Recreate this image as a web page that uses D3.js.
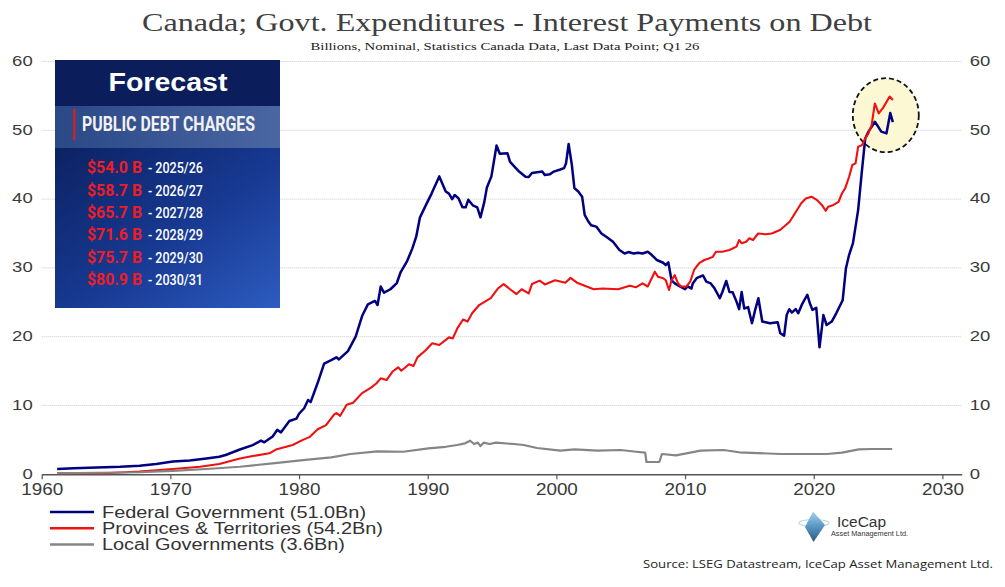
<!DOCTYPE html>
<html>
<head>
<meta charset="utf-8">
<script src="https://cdn.jsdelivr.net/npm/d3@7"></script>
<style>
  body { margin: 0; background: #fff; }
  svg { display: block; font-family: "Liberation Sans", Arial, sans-serif; }
</style>
</head>
<body>
<svg id="chart" width="1005" height="587"></svg>
<script>
// values, year as decimal, billions CAD
var fedYears = [1961.2,1962.5,1964.3,1966.1,1967.6,1968.9,1970.2,1971.5,1972.8,1973.8,
  1974.3,1975.4,1976.4,1977.05,1977.3,1977.95,1978.3,1978.6,1979.25,1979.8,
  1980.0,1980.4,1980.7,1980.9,1981.45,1981.95,1982.5,1982.9,1983.1,1983.8,
  1984.4,1984.9,1985.35,1985.9,1986.1,1986.35,1986.6,1987.1,1987.6,1987.9,
  1988.4,1988.8,1989.1,1989.4,1989.8,1990.3,1990.9,1991.4,1991.65,1991.9,
  1992.1,1992.4,1992.7,1992.95,1993.15,1993.5,1993.85,1994.1,1994.4,1994.6,
  1994.95,1995.35,1995.6,1996.2,1996.4,1997.1,1997.6,1997.85,1998.1,1998.9,
  1999.1,1999.5,1999.8,2000.3,2000.6,2000.75,2000.95,2001.2,2001.4,2001.7,
  2002.0,2002.2,2002.5,2002.7,2003.1,2003.5,2003.9,2004.4,2004.9,2005.3,
  2005.6,2006.0,2006.35,2006.7,2007.1,2007.4,2007.8,2008.3,2008.5,2008.7,
  2008.95,2009.2,2009.6,2010.0,2010.2,2010.5,2010.6,2010.9,2011.4,2011.65,
  2012.0,2012.3,2012.7,2012.9,2013.2,2013.45,2013.7,2014.0,2014.2,2014.4,
  2014.6,2014.9,2015.2,2015.45,2015.7,2016.0,2016.6,2017.2,2017.4,2017.7,
  2017.9,2018.1,2018.3,2018.6,2018.8,2019.1,2019.5,2019.7,2019.9,2020.2,
  2020.45,2020.75,2021.0,2021.4,2021.75,2022.25,2022.5,2022.75,2023.05,2023.25,
  2023.45,2023.75,2024.0,2024.25,2024.5,2024.75,2025.05,2025.25,2025.65,2025.75,
  2025.95,2026.15];
var fedValues = [0.77,0.87,1.0,1.1,1.25,1.5,1.85,2.0,2.3,2.55,
  2.8,3.6,4.25,4.9,4.65,5.5,6.45,6.1,7.75,8.1,
  8.8,9.6,10.8,10.5,13.3,16.1,16.6,17.0,16.7,17.9,
  20.0,23.0,24.7,25.2,24.6,27.3,26.4,26.9,27.8,29.4,
  31.0,32.8,34.5,37.35,38.9,40.8,43.3,41.1,40.8,40.0,
  40.6,40.1,38.8,38.8,39.9,39.1,38.8,37.35,39.6,41.7,
  43.3,47.8,46.6,46.65,45.4,44.0,43.25,43.2,43.8,44.0,
  43.5,43.6,44.0,44.3,44.5,45.2,48.0,45.0,41.6,41.1,
  40.35,37.7,36.7,36.2,36.0,35.0,34.5,33.8,32.6,32.1,
  32.3,32.1,32.2,32.1,32.35,31.9,31.15,30.75,30.4,30.8,
  28.2,27.75,27.3,26.9,27.3,27.0,27.75,28.5,28.9,28.0,
  27.75,27.0,25.6,26.5,28.1,26.5,26.45,25.1,24.0,26.5,
  24.1,24.3,21.95,23.9,25.6,22.2,21.95,22.1,20.5,20.15,
  23.15,24.0,23.5,24.0,23.4,24.75,26.1,24.85,23.9,24.2,
  18.45,23.15,21.7,22.2,23.4,25.3,29.9,31.9,33.6,36.0,
  38.4,44.2,48.8,49.8,50.5,51.25,50.4,49.8,49.55,50.5,
  52.5,51.2];

var provYears = [1961.2,1965.0,1967.6,1970.2,1972.3,1973.8,1975.4,1976.4,1977.7,1978.2,
  1979.0,1979.5,1980.3,1980.8,1981.45,1982.1,1982.75,1982.9,1983.2,1983.7,
  1984.2,1984.9,1985.6,1986.0,1986.35,1986.8,1987.25,1987.7,1987.95,1988.55,
  1988.9,1989.2,1989.8,1990.35,1990.9,1991.65,1991.95,1992.3,1992.75,1993.1,
  1993.45,1994.0,1994.9,1995.45,1995.9,1996.4,1996.9,1997.3,1997.85,1998.1,
  1998.7,1999.1,1999.9,2000.7,2001.1,2001.6,2002.35,2002.9,2003.6,2004.8,
  2005.7,2006.2,2006.7,2007.1,2007.65,2007.9,2008.3,2008.5,2008.75,2008.95,
  2009.2,2009.45,2009.7,2010.1,2010.4,2010.7,2011.1,2011.5,2011.9,2012.15,
  2012.4,2012.9,2013.45,2014.0,2014.2,2014.4,2014.75,2015.0,2015.28,2015.68,
  2016.23,2016.73,2017.38,2018.13,2018.63,2019.03,2019.38,2019.83,2020.23,2020.63,
  2020.93,2021.13,2021.53,2021.93,2022.2,2022.45,2022.75,2023.0,2023.25,2023.45,
  2023.75,2024.0,2024.25,2024.5,2024.75,2025.05,2025.4,2025.9,2026.15];
var provValues = [0.15,0.15,0.4,0.77,1.1,1.5,2.3,2.65,3.05,3.6,
  4.0,4.25,5.0,5.4,6.55,7.15,8.75,8.9,8.5,10.1,
  10.4,11.8,12.6,13.2,13.95,13.7,14.9,15.55,15.05,16.0,
  15.75,17.0,17.95,19.05,18.8,19.9,19.75,21.2,22.5,22.2,
  23.4,24.6,25.6,27.0,27.65,26.9,26.2,26.9,26.3,27.65,
  28.15,27.6,28.2,27.85,28.55,27.85,27.3,26.9,27.0,26.9,
  27.4,27.2,27.75,27.3,29.45,28.7,28.5,28.2,26.8,28.2,
  28.95,27.75,27.3,27.3,28.0,29.7,30.7,31.15,31.4,31.6,
  32.35,32.35,32.6,33.1,34.05,33.6,33.8,34.3,34.05,35.0,
  34.9,35.0,35.5,36.7,38.2,39.4,40.1,40.35,39.9,39.15,
  38.3,38.9,39.15,39.6,40.85,41.6,43.25,44.95,45.2,47.6,
  47.85,48.8,49.55,50.75,53.9,52.45,53.3,54.9,54.4];

var localYears = [1961.2,1967.6,1970.2,1972.8,1975.4,1977.95,1980.5,1982.5,1984.0,1986.1,
  1988.1,1990.05,1991.4,1992.3,1992.9,1993.3,1993.6,1993.9,1994.1,1994.35,
  1994.8,1995.3,1996.7,1997.45,1998.5,2000.3,2001.4,2003.2,2005.0,2006.2,
  2006.9,2007.0,2008.0,2008.2,2009.3,2011.2,2013.0,2014.2,2017.4,2021.0,
  2022.2,2023.5,2024.5,2026.1];
var localValues = [0.15,0.3,0.5,0.77,1.1,1.6,2.1,2.47,2.95,3.34,
  3.28,3.78,4.0,4.26,4.5,4.88,4.4,4.6,4.1,4.6,
  4.4,4.6,4.4,4.26,3.82,3.43,3.63,3.43,3.53,3.28,
  3.14,1.79,1.79,2.95,2.76,3.43,3.53,3.2,2.95,2.95,
  3.14,3.63,3.68,3.68];

var seriesNames = ["Federal Government (51.0Bn)", "Provinces & Territories (54.2Bn)", "Local Governments (3.6Bn)"];
var seriesColors = ["#000080", "#f01010", "#858585"];

var xTicks = [1960, 1970, 1980, 1990, 2000, 2010, 2020, 2030];
var yTicks = [0, 10, 20, 30, 40, 50, 60];

var forecastAmounts = ["$54.0 B", "$58.7 B", "$65.7 B", "$71.6 B", "$75.7 B", "$80.9 B"];
var forecastYears = ["2025/26", "2026/27", "2027/28", "2028/29", "2029/30", "2030/31"];

var svgWidth = 1005;
var svgHeight = 587;
var margin = { top: 61.5, right: 43.3, bottom: 112.7, left: 41.7 };
var width = svgWidth - margin.left - margin.right;
var height = svgHeight - margin.top - margin.bottom;

var svg = d3.select("#chart");

// title
svg.append("text")
  .attr("x", 507).attr("y", 31)
  .attr("text-anchor", "middle")
  .attr("textLength", 730).attr("lengthAdjust", "spacingAndGlyphs")
  .style("font-family", "'Liberation Serif', serif")
  .style("font-size", "25px")
  .style("fill", "#404040")
  .text("Canada; Govt. Expenditures - Interest Payments on Debt");

svg.append("text")
  .attr("x", 505).attr("y", 49.5)
  .attr("text-anchor", "middle")
  .attr("textLength", 389).attr("lengthAdjust", "spacingAndGlyphs")
  .style("font-family", "'Liberation Serif', serif")
  .style("font-size", "11px")
  .style("fill", "#222")
  .text("Billions, Nominal, Statistics Canada Data, Last Data Point; Q1 26");

var chartGroup = svg.append("g")
  .attr("transform", `translate(${margin.left}, ${margin.top})`);

var xScale = d3.scaleLinear().domain([1960, 2031.5]).range([0, width]);
var yScale = d3.scaleLinear().domain([0, 60]).range([height, 0]);

// dotted gridlines
chartGroup.selectAll(".grid")
  .data(yTicks.filter(d => d > 0))
  .enter()
  .append("line")
  .attr("x1", 0).attr("x2", width)
  .attr("y1", d => yScale(d)).attr("y2", d => yScale(d))
  .attr("stroke", "#c8c8c8")
  .attr("stroke-width", 1)
  .attr("stroke-dasharray", "1,1");

// highlight around the latest points
chartGroup.append("ellipse")
  .attr("cx", xScale(2025.6))
  .attr("cy", yScale(52.2))
  .attr("rx", 33).attr("ry", 37)
  .attr("fill", "#fbf8d3")
  .attr("stroke", "#111")
  .attr("stroke-width", 1.8)
  .attr("stroke-dasharray", "5,3");

// axes
var bottomAxis = d3.axisBottom(xScale)
  .tickValues(xTicks)
  .tickSize(5)
  .tickSizeOuter(0)
  .tickPadding(4)
  .tickFormat(d3.format("d"));

var xAxisG = chartGroup.append("g")
  .attr("transform", `translate(0, ${height})`)
  .call(bottomAxis);
xAxisG.select(".domain").attr("stroke", "#555").attr("stroke-width", 1.4);
xAxisG.selectAll(".tick line").attr("stroke", "#555").attr("stroke-width", 1.2);
xAxisG.selectAll(".tick text")
  .attr("textLength", 42).attr("lengthAdjust", "spacingAndGlyphs")
  .style("font-size", "16.5px")
  .style("font-family", "'Liberation Sans', Arial, sans-serif")
  .style("fill", "#3a3a3a");

var leftAxis = d3.axisLeft(yScale).tickValues(yTicks).tickSize(0).tickPadding(9);
var rightAxis = d3.axisRight(yScale).tickValues(yTicks).tickSize(0).tickPadding(8);

[chartGroup.append("g").call(leftAxis),
 chartGroup.append("g").attr("transform", `translate(${width}, 0)`).call(rightAxis)]
  .forEach(function (g) {
    g.select(".domain").remove();
    g.selectAll(".tick text")
      .attr("textLength", d => String(d).length * 10.3)
      .attr("lengthAdjust", "spacingAndGlyphs")
      .attr("dy", "0.25em")
      .style("font-size", "15px")
      .style("font-family", "'Liberation Sans', Arial, sans-serif")
      .style("fill", "#3a3a3a");
  });

// series lines
var line = d3.line()
  .x(d => xScale(d[0]))
  .y(d => yScale(d[1]));

var series = [
  d3.zip(fedYears, fedValues),
  d3.zip(provYears, provValues),
  d3.zip(localYears, localValues)
];
var widths = [2.5, 2.1, 2.2];

series.forEach(function (pts, i) {
  chartGroup.append("path")
    .datum(pts)
    .attr("d", line)
    .attr("fill", "none")
    .attr("stroke", seriesColors[i])
    .attr("stroke-width", widths[i])
    .attr("stroke-linejoin", "round");
});

// forecast inset (pasted graphic in the original)
var defs = svg.append("defs");
var bandGrad = defs.append("linearGradient").attr("id", "bandGrad");
bandGrad.append("stop").attr("offset", "0%").attr("stop-color", "#2b4887");
bandGrad.append("stop").attr("offset", "100%").attr("stop-color", "#4a67a3");
var bodyGrad = defs.append("linearGradient").attr("id", "bodyGrad")
  .attr("x1", "0%").attr("y1", "0%").attr("x2", "100%").attr("y2", "100%");
bodyGrad.append("stop").attr("offset", "0%").attr("stop-color", "#0c2263");
bodyGrad.append("stop").attr("offset", "55%").attr("stop-color", "#183a93");
bodyGrad.append("stop").attr("offset", "100%").attr("stop-color", "#2e5cc0");

var box = svg.append("g").attr("transform", "translate(55, 60)");
box.append("rect").attr("width", 225).attr("height", 46).attr("fill", "#0b1e5b");
box.append("rect").attr("y", 46).attr("width", 225).attr("height", 42).attr("fill", "url(#bandGrad)");
box.append("rect").attr("y", 88).attr("width", 225).attr("height", 160).attr("fill", "url(#bodyGrad)");

box.append("text")
  .attr("x", 113).attr("y", 31)
  .attr("text-anchor", "middle")
  .attr("textLength", 119).attr("lengthAdjust", "spacingAndGlyphs")
  .style("font-size", "25px").style("font-weight", "bold")
  .style("fill", "#fff")
  .text("Forecast");

box.append("rect")
  .attr("x", 18).attr("y", 49).attr("width", 2.5).attr("height", 31)
  .attr("fill", "#c4252d");

box.append("text")
  .attr("x", 27).attr("y", 71)
  .attr("textLength", 173).attr("lengthAdjust", "spacingAndGlyphs")
  .style("font-family", "Roboto, sans-serif")
  .style("font-size", "20px").style("font-weight", "bold")
  .style("fill", "#f2f2f2")
  .text("PUBLIC DEBT CHARGES");

var rows = box.selectAll(".row")
  .data(d3.zip(forecastAmounts, forecastYears))
  .enter()
  .append("g")
  .attr("transform", (d, i) => `translate(0, ${113.3 + i * 22.3})`);

rows.append("text")
  .attr("x", 32)
  .attr("textLength", 55).attr("lengthAdjust", "spacingAndGlyphs")
  .style("font-family", "Roboto, sans-serif")
  .style("font-size", "17px").style("font-weight", "bold")
  .style("fill", "#ee1d25")
  .text(d => d[0]);

rows.append("text")
  .attr("x", 93)
  .attr("textLength", 55).attr("lengthAdjust", "spacingAndGlyphs")
  .style("font-family", "Roboto, sans-serif")
  .style("font-size", "15.5px").style("font-weight", "500")
  .style("fill", "#fff")
  .text(d => "- " + d[1]);

// legend
var legend = svg.append("g").attr("transform", "translate(50, 512)");
var legendWidths = [264, 281, 243];
seriesNames.forEach(function (name, i) {
  var row = legend.append("g").attr("transform", `translate(0, ${i * 16.2})`);
  row.append("line")
    .attr("x1", 0).attr("x2", 44)
    .attr("stroke", seriesColors[i])
    .attr("stroke-width", 2.5);
  row.append("text")
    .attr("x", 52).attr("y", 5.5)
    .attr("textLength", legendWidths[i]).attr("lengthAdjust", "spacingAndGlyphs")
    .style("font-size", "16px")
    .style("fill", "#333")
    .text(name);
});

// IceCap logo
var logo = svg.append("g");
var iceGrad = defs.append("linearGradient").attr("id", "iceGrad")
  .attr("x1", "0%").attr("y1", "0%").attr("x2", "0%").attr("y2", "100%");
iceGrad.append("stop").attr("offset", "0%").attr("stop-color", "#a9d3ec");
iceGrad.append("stop").attr("offset", "45%").attr("stop-color", "#5d9cc6");
iceGrad.append("stop").attr("offset", "100%").attr("stop-color", "#2b5a85");
logo.append("ellipse")
  .attr("cx", 814).attr("cy", 523).attr("rx", 15).attr("ry", 3.5)
  .attr("fill", "none").attr("stroke", "#b8d6e8").attr("stroke-width", 1.2);
logo.append("path")
  .attr("d", "M813,511.5 L825,525 L813.5,542 L805,527 Z")
  .attr("fill", "url(#iceGrad)");
logo.append("text")
  .attr("x", 837).attr("y", 527)
  .attr("textLength", 49).attr("lengthAdjust", "spacingAndGlyphs")
  .style("font-size", "14px")
  .style("fill", "#333")
  .text("IceCap");
logo.append("text")
  .attr("x", 831).attr("y", 536)
  .attr("textLength", 77).attr("lengthAdjust", "spacingAndGlyphs")
  .style("font-size", "7px")
  .style("fill", "#333")
  .text("Asset Management Ltd.");

// source
svg.append("text")
  .attr("x", 643).attr("y", 568)
  .attr("textLength", 350).attr("lengthAdjust", "spacingAndGlyphs")
  .style("font-family", "'Open Sans', sans-serif")
  .style("font-size", "10.5px")
  .style("fill", "#222")
  .text("Source: LSEG Datastream, IceCap Asset Management Ltd.");
</script>
</body>
</html>
